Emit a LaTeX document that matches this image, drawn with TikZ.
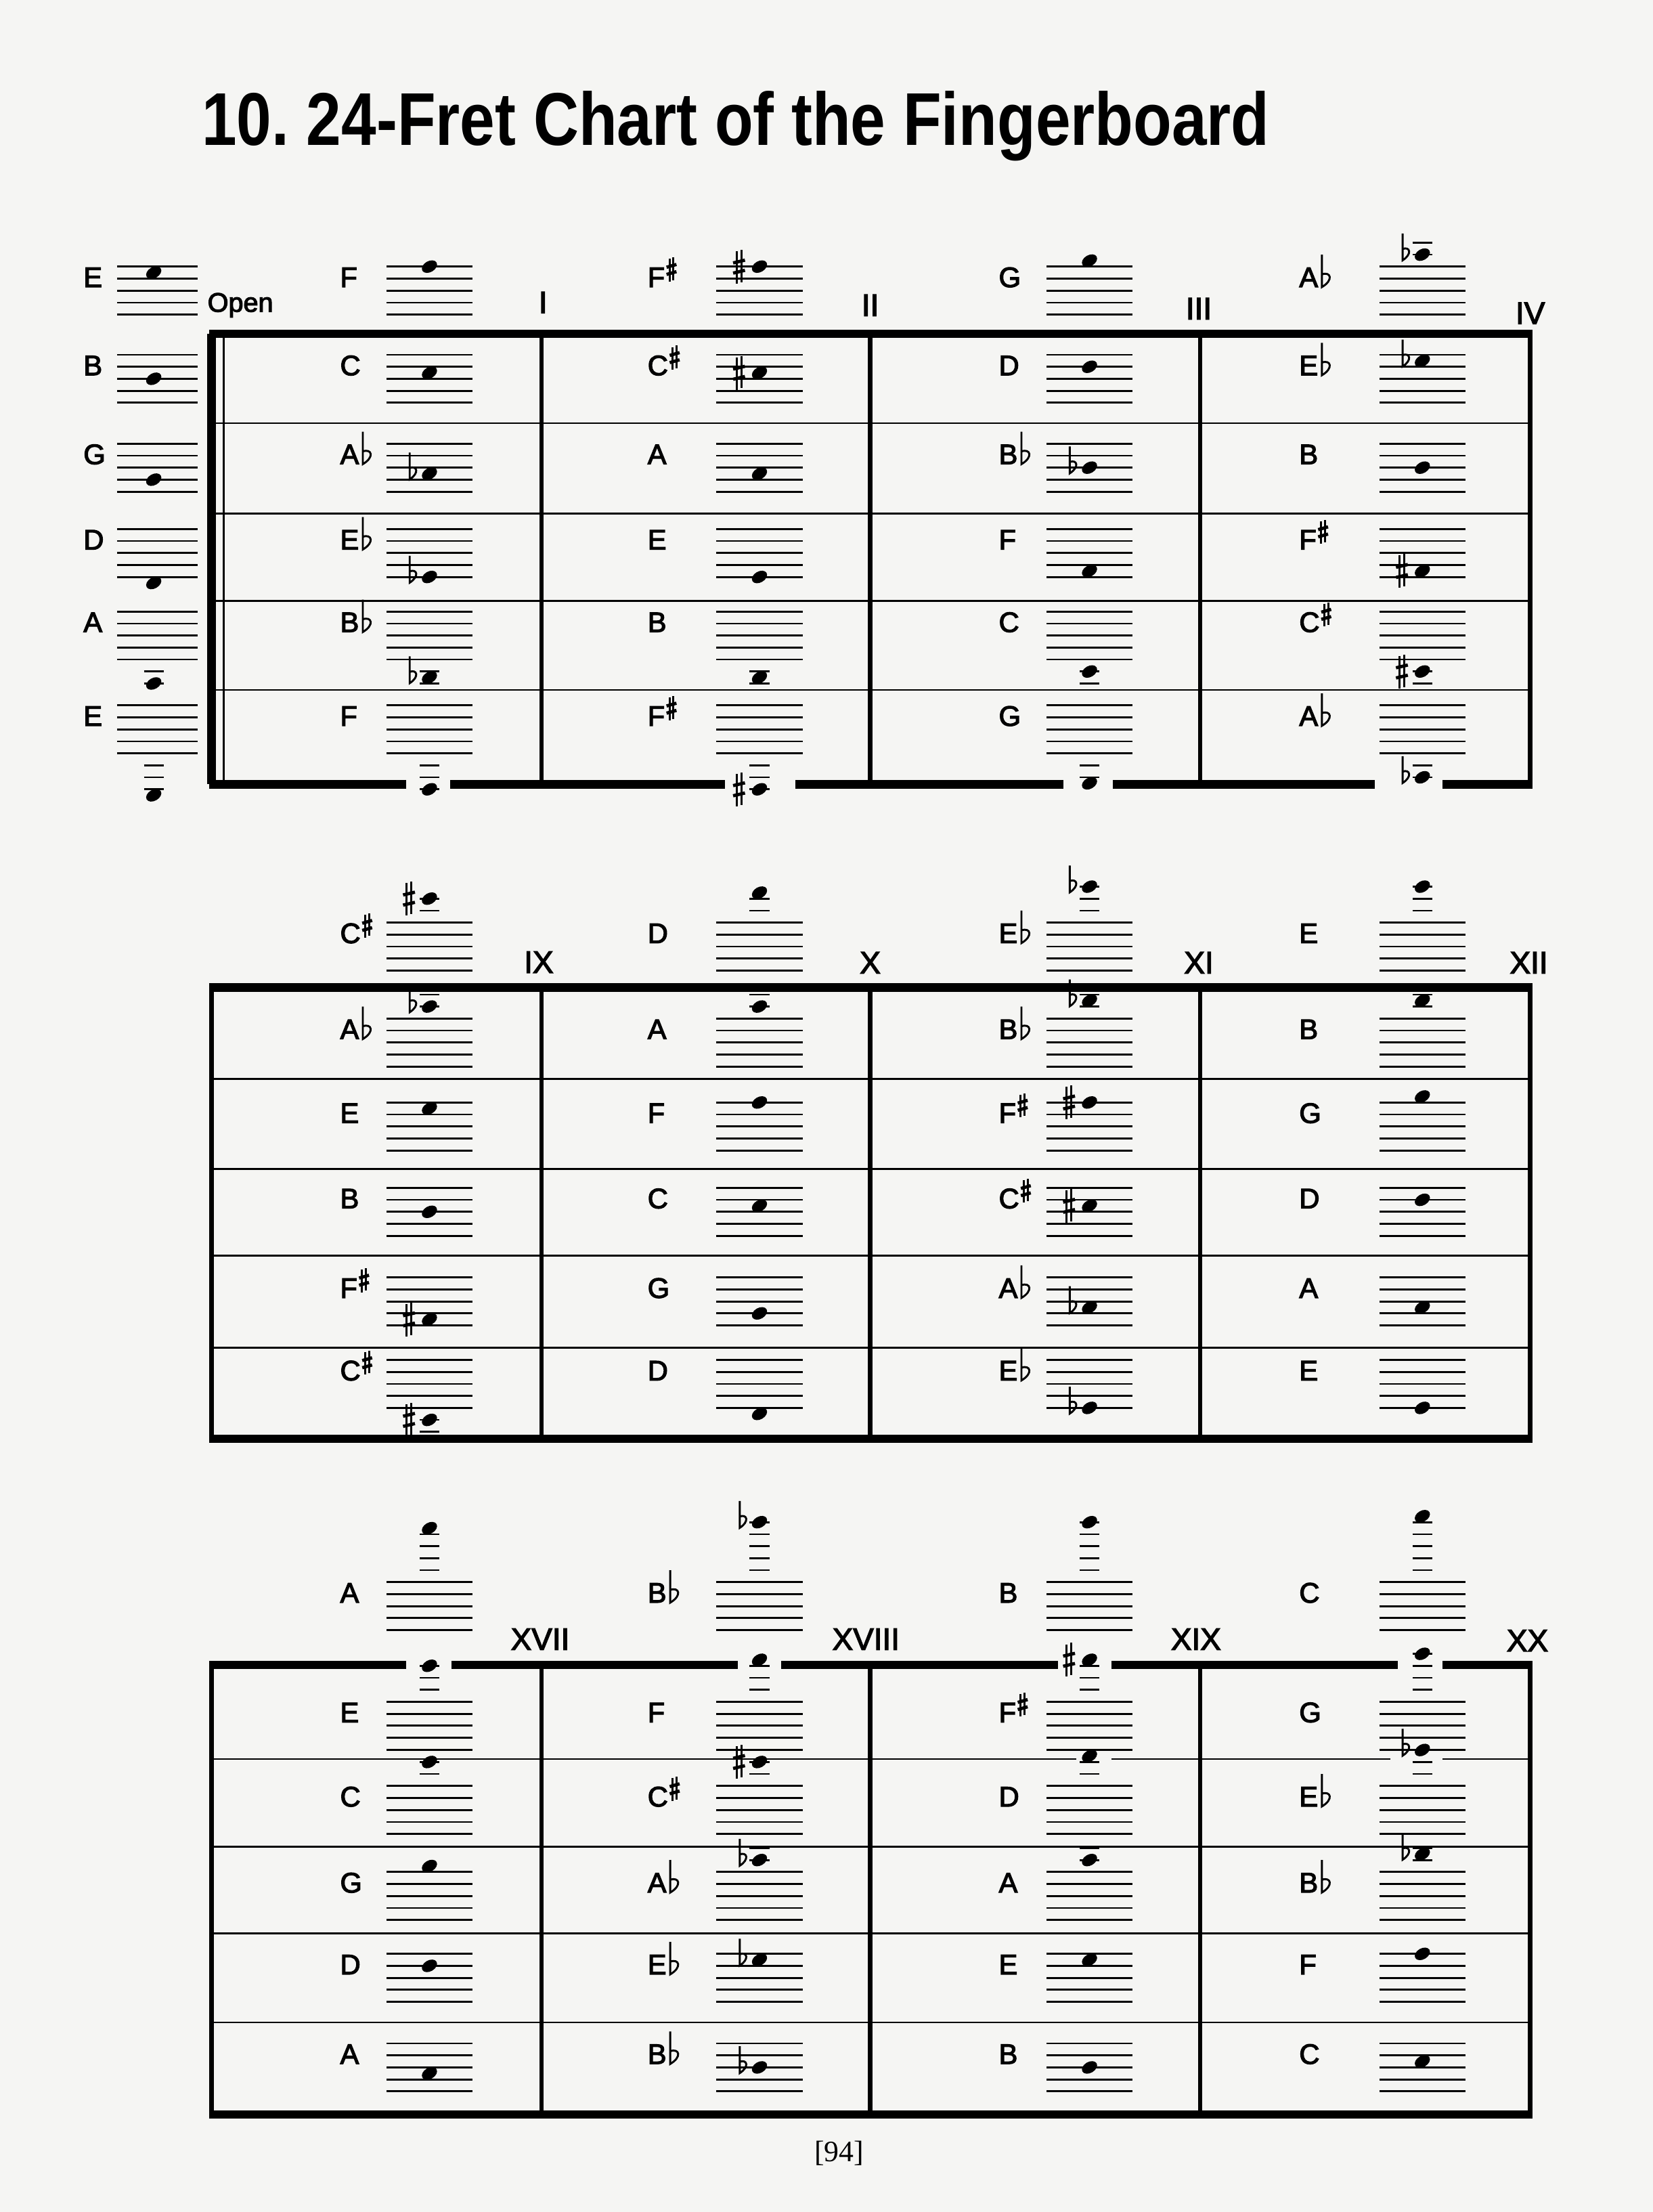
\documentclass[tikz,border=0pt]{standalone}
\usepackage{graphicx}
\usepackage{fontspec}
\setmainfont{Liberation Sans}
\newfontfamily\labfont[FakeBold=3]{Liberation Sans}
\newfontfamily\pagefont{Liberation Serif}
\definecolor{paper}{RGB}{245,245,243}

% #1 stem x, #2 bottom y, #3 stem height, #4 bowl height, #5 bowl width
\newcommand{\flatsign}[5]{\draw[accline] (#1,#2-#3) -- (#1,#2)
  .. controls (#1+#5,#2-0.55*#4) and (#1+0.75*#5,#2-1.25*#4) .. (#1,#2-#4);}
% #1 x, #2 y (centre), #3 half height, #4 half width
\newcommand{\sharpsign}[4]{%
  \draw[accline] (#1-0.4*#4,#2-#3+1) -- (#1-0.4*#4,#2+#3) (#1+0.4*#4,#2-#3) -- (#1+0.4*#4,#2+#3-1);
  \draw[accbar] (#1-#4,#2-0.3*#3+1) -- (#1+#4,#2-0.3*#3-1) (#1-#4,#2+0.3*#3+1) -- (#1+#4,#2+0.3*#3-1);}

% #1 x, #2 staff top, #3 position (0 = bottom line), #4 n/f/s
\newcommand{\notehead}[4]{%
  \pgfmathsetmacro\noty{#2+(8-(#3))*4.25}
  \ifnum#3>9 \foreach \q in {10,12,...,#3} \draw[ledger] (#1-7,{#2+(8-(\q))*4.25}) -- ++(14,0); \fi
  \ifnum#3<-1 \foreach \q in {-2,-4,...,#3} \draw[ledger] (#1-7,{#2+(8-(\q))*4.25}) -- ++(14,0); \fi
  \fill[shift={(#1,\noty)},rotate=30] (0,0) ellipse [x radius=5.8pt,y radius=3.9pt];
  \if#4f\flatsign{#1-14}{\noty+4}{19}{8}{7}\fi
  \if#4s\sharpsign{#1-14.5}{\noty}{12}{4.2}\fi
}
% #1 name, #2 column (0 = open), #3 staff top, #4 letter, #5 position, #6 n/f/s
\newcommand{\cell}[6]{%
  \pgfmathsetmacro\labx{{59,241,459,708,921}[#2]}
  \pgfmathsetmacro\stfx{{83,274,508,742,978}[#2]}
  \pgfmathsetmacro\stfw{#2==0 ? 57 : 61}
  \pgfmathsetmacro\notx{#2==0 ? 109 : \stfx+30.5}
  \node[lab] (#1) at (\labx,#3+14.5) {#4};
  \begin{scope}[shift={(#1.base east)}]
    \if#6f\flatsign{2.5}{0}{23}{9}{8.5}\fi
    \if#6s\sharpsign{4.5}{-12.5}{8.5}{3.5}\fi
  \end{scope}
  \foreach \k in {0,...,4} \draw[staffline] (\stfx,#3+\k*8.5) -- ++(\stfw,0);
  \notehead{\notx}{#3}{#5}{#6}
}
% #1 top, #2-#5 string lines, #6 bottom
\newcommand{\fretbox}[6]{%
  \foreach \rowy in {#2,#3,#4,#5} \draw[rowline] (150,\rowy) -- (1085,\rowy);
  \foreach \fretx in {384,617,851} \draw[fretline] (\fretx,#1) -- (\fretx,#6);
  \draw[sideline] (150,#1) -- (150,#6) (1085,#1) -- (1085,#6);
  \draw[edgeline] (148.2,#1) -- (1086.8,#1) (148.2,#6) -- (1086.8,#6);
}
\newcommand{\borderGap}[3]{\fill[paper] (#1,#3-3.6) rectangle (#2,#3+3.6);}

\begin{document}
\begin{tikzpicture}[x=1pt,y=-1pt,
  lab/.style={anchor=base west,inner sep=0pt,font=\labfont\fontsize{20}{20}\selectfont},
  num/.style={anchor=base,inner sep=0pt,font=\labfont\fontsize{22}{22}\selectfont},
  accline/.style={line width=1.4pt},
  accbar/.style={line width=2.3pt},
  staffline/.style={line width=1.35pt},
  ledger/.style={line width=1.3pt},
  rowline/.style={line width=1.2pt},
  fretline/.style={line width=3pt},
  sideline/.style={line width=3.6pt},
  edgeline/.style={line width=5.8pt}]
\fill[paper] (0,0) rectangle (1172,1568);
\useasboundingbox (0,0) rectangle (1172,1568);

\node[anchor=base west,inner sep=0pt] (title) at (143,103)
  {\frenchspacing\fontsize{53}{53}\selectfont\bfseries\scalebox{.84}[1]{10. 24-Fret Chart of the Fingerboard}};

% frames
\fretbox{236.5}{300}{364}{426}{489}{556}
\draw[edgeline] (150,236.5) -- (150,556);
\draw[line width=1.5pt] (158.5,236.5) -- (158.5,556);
\fretbox{700}{764.7}{828.7}{890}{955.4}{1020}
\fretbox{1180}{1247}{1309}{1370.5}{1433.5}{1499}

\borderGap{288}{319}{556} \borderGap{514}{564}{556}
\borderGap{754}{789}{556} \borderGap{975}{1023}{556}
\borderGap{288}{320}{1180} \borderGap{523}{554}{1180}
\borderGap{750}{788}{1180} \borderGap{991}{1023}{1180}
\borderGap{763}{788}{1247} \borderGap{986}{1023}{1247}

% open strings
\cell{o1}{0}{189}{E}{7}{n}
\cell{o2}{0}{251.5}{B}{4}{n}
\cell{o3}{0}{314.5}{G}{2}{n}
\cell{o4}{0}{375}{D}{-1}{n}
\cell{o5}{0}{433.5}{A}{-4}{n}
\cell{o6}{0}{500}{E}{-7}{n}

% frets I-IV
\cell{a11}{1}{189}{F}{8}{n}       \cell{a12}{2}{189}{F}{8}{s}
\cell{a13}{3}{189}{G}{9}{n}       \cell{a14}{4}{189}{A}{10}{f}
\cell{a21}{1}{251.5}{C}{5}{n}     \cell{a22}{2}{251.5}{C}{5}{s}
\cell{a23}{3}{251.5}{D}{6}{n}     \cell{a24}{4}{251.5}{E}{7}{f}
\cell{a31}{1}{314.5}{A}{3}{f}     \cell{a32}{2}{314.5}{A}{3}{n}
\cell{a33}{3}{314.5}{B}{4}{f}     \cell{a34}{4}{314.5}{B}{4}{n}
\cell{a41}{1}{375}{E}{0}{f}       \cell{a42}{2}{375}{E}{0}{n}
\cell{a43}{3}{375}{F}{1}{n}       \cell{a44}{4}{375}{F}{1}{s}
\cell{a51}{1}{433.5}{B}{-3}{f}    \cell{a52}{2}{433.5}{B}{-3}{n}
\cell{a53}{3}{433.5}{C}{-2}{n}    \cell{a54}{4}{433.5}{C}{-2}{s}
\cell{a61}{1}{500}{F}{-6}{n}      \cell{a62}{2}{500}{F}{-6}{s}
\cell{a63}{3}{500}{G}{-5}{n}      \cell{a64}{4}{500}{A}{-4}{f}

% frets IX-XII
\cell{b11}{1}{654}{C}{12}{s}      \cell{b12}{2}{654}{D}{13}{n}
\cell{b13}{3}{654}{E}{14}{f}      \cell{b14}{4}{654}{E}{14}{n}
\cell{b21}{1}{722}{A}{10}{f}      \cell{b22}{2}{722}{A}{10}{n}
\cell{b23}{3}{722}{B}{11}{f}      \cell{b24}{4}{722}{B}{11}{n}
\cell{b31}{1}{781.5}{E}{7}{n}     \cell{b32}{2}{781.5}{F}{8}{n}
\cell{b33}{3}{781.5}{F}{8}{s}     \cell{b34}{4}{781.5}{G}{9}{n}
\cell{b41}{1}{842}{B}{4}{n}       \cell{b42}{2}{842}{C}{5}{n}
\cell{b43}{3}{842}{C}{5}{s}       \cell{b44}{4}{842}{D}{6}{n}
\cell{b51}{1}{905.5}{F}{1}{s}     \cell{b52}{2}{905.5}{G}{2}{n}
\cell{b53}{3}{905.5}{A}{3}{f}     \cell{b54}{4}{905.5}{A}{3}{n}
\cell{b61}{1}{964}{C}{-2}{s}      \cell{b62}{2}{964}{D}{-1}{n}
\cell{b63}{3}{964}{E}{0}{f}       \cell{b64}{4}{964}{E}{0}{n}

% frets XVII-XX
\cell{c11}{1}{1121.5}{A}{17}{n}   \cell{c12}{2}{1121.5}{B}{18}{f}
\cell{c13}{3}{1121.5}{B}{18}{n}   \cell{c14}{4}{1121.5}{C}{19}{n}
\cell{c21}{1}{1206.3}{E}{14}{n}   \cell{c22}{2}{1206.3}{F}{15}{n}
\cell{c23}{3}{1206.3}{F}{15}{s}   \cell{c24}{4}{1206.3}{G}{16}{n}
\cell{c31}{1}{1266}{C}{12}{n}     \cell{c32}{2}{1266}{C}{12}{s}
\cell{c33}{3}{1266}{D}{13}{n}     \cell{c34}{4}{1266}{E}{14}{f}
\cell{c41}{1}{1327}{G}{9}{n}      \cell{c42}{2}{1327}{A}{10}{f}
\cell{c43}{3}{1327}{A}{10}{n}     \cell{c44}{4}{1327}{B}{11}{f}
\cell{c51}{1}{1385}{D}{6}{n}      \cell{c52}{2}{1385}{E}{7}{f}
\cell{c53}{3}{1385}{E}{7}{n}      \cell{c54}{4}{1385}{F}{8}{n}
\cell{c61}{1}{1448.5}{A}{3}{n}    \cell{c62}{2}{1448.5}{B}{4}{f}
\cell{c63}{3}{1448.5}{B}{4}{n}    \cell{c64}{4}{1448.5}{C}{5}{n}

% fret numbers
\node[num,anchor=base west,font=\labfont\fontsize{19}{19}\selectfont] (open) at (147,221) {Open};
\node[num] (f1) at (385,222) {I};
\node[num] (f2) at (617,224) {II};
\node[num] (f3) at (850,226.4) {III};
\node[num] (f4) at (1085,229.6) {IV};
\node[num] (f9) at (382,689.6) {IX};
\node[num] (f10) at (617,690) {X};
\node[num] (f11) at (850,690) {XI};
\node[num] (f12) at (1084,690) {XII};
\node[num] (f17) at (383,1169.5) {XVII};
\node[num] (f18) at (614,1169.5) {XVIII};
\node[num] (f19) at (848,1169.5) {XIX};
\node[num] (f20) at (1083,1170.5) {XX};

\node[anchor=base,inner sep=0pt,font=\pagefont\fontsize{21}{21}\selectfont] (page) at (595,1532) {[94]};
\end{tikzpicture}
\end{document}
